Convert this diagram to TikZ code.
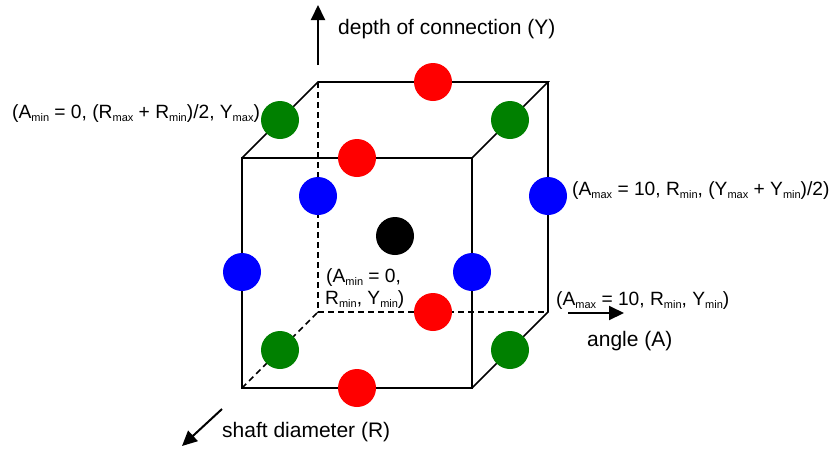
\documentclass[tikz,border=0pt]{standalone}
\usepackage{fontspec}
\setmainfont{Liberation Sans}
\usepackage{xcolor}
\usetikzlibrary{arrows.meta,positioning}
\definecolor{ptred}{HTML}{FF0000}
\definecolor{ptgreen}{HTML}{008000}
\definecolor{ptblue}{HTML}{0000FF}
\newcommand{\lo}[1]{\raisebox{-3pt}{\fontsize{11}{11}\selectfont #1}}

\begin{document}
\begin{tikzpicture}[
  x=1pt, y=-1pt,
  edge/.style={line width=1.6pt, black},
  hidden/.style={line width=1.6pt, black, dash pattern=on 6pt off 4pt},
  pt/.style={circle, minimum size=38pt, inner sep=0pt},
  axis/.style={-{Triangle[length=15pt, width=14pt]}, line width=2pt},
  axislabel/.style={font=\fontsize{21}{24}\selectfont, inner sep=0pt, anchor=base west},
  ptlabel/.style={font=\fontsize{19.2}{23}\selectfont, inner sep=0pt, anchor=base west},
]
\useasboundingbox (0,0) rectangle (832,448);

% Cube corners
\coordinate (ftl) at (242,158);
\coordinate (ftr) at (472,158);
\coordinate (fbl) at (242,388);
\coordinate (fbr) at (472,388);
\coordinate (btl) at (318,82);
\coordinate (btr) at (548,82);
\coordinate (bbl) at (318,312);
\coordinate (bbr) at (548,312);

% Hidden edges
\draw[hidden] (btl) -- (bbl) -- (bbr);
\draw[hidden] (fbl) -- (bbl);

% Visible edges
\draw[edge] (ftl) rectangle (fbr);
\draw[edge] (ftl) -- (btl) -- (btr) -- (ftr);
\draw[edge] (btr) -- (bbr) -- (fbr);

% Design points
\node[pt, fill=ptred] (rtop) at (433,82) {};
\node[pt, fill=ptgreen] (gtl) at (280,120) {};
\node[pt, fill=ptgreen] (gtr) at (510,120) {};
\node[pt, fill=ptred] (rfront) at (357,158) {};
\node[pt, fill=ptblue] (bback) at (318,196) {};
\node[pt, fill=ptblue] (bright) at (548,196) {};
\node[pt, fill=black] (centre) at (395,236) {};
\node[pt, fill=ptblue] (bleft) at (242,272) {};
\node[pt, fill=ptblue] (bfront) at (472,272) {};
\node[pt, fill=ptred] (rbase) at (433,312) {};
\node[pt, fill=ptgreen] (gbl) at (280,350) {};
\node[pt, fill=ptgreen] (gbr) at (510,350) {};
\node[pt, fill=ptred] (rbottom) at (357,388) {};

% Axes
\coordinate (ytail) at (318,65);
\coordinate (yhead) at (318,5);
\draw[axis] (ytail) -- (yhead);
\node[axislabel] (ylabel) at (338,34) {depth of connection (Y)};

\coordinate (atail) at (568,313);
\coordinate (ahead) at (624,313);
\draw[axis] (atail) -- (ahead);
\node[axislabel] (alabel) at (587,346) {angle (A)};

\coordinate (rtail) at (222,409);
\coordinate (rhead) at (182,446);
\draw[axis] (rtail) -- (rhead);
\node[axislabel] (rlabel) at (222,437) {shaft diameter (R)};

% Point labels
\node[ptlabel] (lefttext) at (12,118) {(A\lo{min} = 0, (R\lo{max} + R\lo{min})/2, Y\lo{max})};
\node[ptlabel] (righttext) at (572,195) {(A\lo{max} = 10, R\lo{min}, (Y\lo{max} + Y\lo{min})/2)};
\node[ptlabel] (origintext) at (326,282) {(A\lo{min} = 0,};
\node[ptlabel] (origintext2) at (325,304) {R\lo{min}, Y\lo{min})};
\node[ptlabel] (cornertext) at (556,305) {(A\lo{max} = 10, R\lo{min}, Y\lo{min})};

\end{tikzpicture}
\end{document}
